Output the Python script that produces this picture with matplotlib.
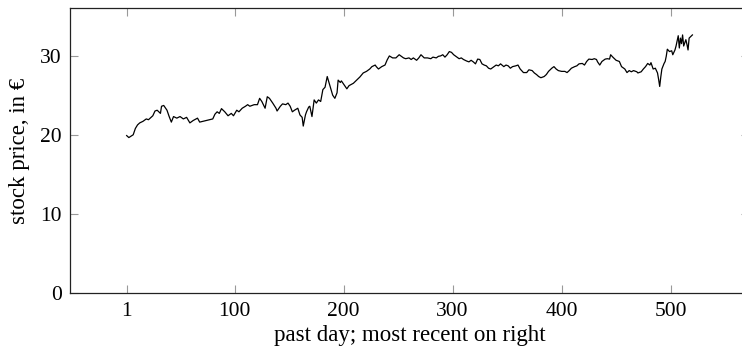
import matplotlib
matplotlib.use("Agg")
import matplotlib.pyplot as plt

days = [
    1, 3, 7, 9, 11, 13, 16, 19, 21, 25,
    27, 29, 32, 33, 35, 38, 40, 42, 44, 47,
    50, 53, 56, 59, 62, 66, 68, 71, 74, 77,
    80, 82, 84, 86, 88, 91, 94, 97, 99, 102,
    104, 107, 110, 112, 114, 118, 121, 123, 125, 128,
    130, 132, 135, 138, 139, 142, 144, 147, 149, 151,
    153, 155, 158, 160, 162, 163, 165, 166, 168, 169,
    171, 173, 175, 177, 179, 181, 183, 184, 185, 187,
    190, 192, 194, 195, 197, 198, 200, 203, 205, 207,
    209, 212, 215, 218, 221, 224, 226, 229, 230, 232,
    235, 238, 240, 242, 245, 248, 251, 253, 255, 257,
    260, 262, 264, 267, 269, 271, 274, 277, 280, 282,
    285, 287, 289, 291, 293, 295, 297, 299, 301, 304,
    306, 308, 310, 313, 315, 317, 319, 321, 323, 325,
    327, 329, 331, 333, 335, 338, 340, 342, 344, 347,
    349, 351, 353, 355, 358, 360, 362, 365, 368, 370,
    373, 375, 377, 379, 381, 384, 386, 388, 391, 393,
    395, 397, 400, 403, 405, 407, 409, 412, 414, 416,
    419, 421, 423, 425, 428, 430, 432, 433, 435, 437,
    440, 442, 444, 445, 447, 450, 453, 455, 458, 460,
    462, 464, 466, 469, 470, 473, 475, 477, 479, 481,
    482, 484, 486, 488, 489, 490, 491, 492, 494, 495,
    496, 497, 499, 501, 502, 504, 505, 507, 508, 509,
    510, 511, 512, 514, 515, 516, 517, 520,
]

prices = [
    19.9, 19.65, 20.0, 20.8, 21.25, 21.5, 21.7, 22.0, 21.9, 22.4,
    23.0, 23.1, 22.7, 23.6, 23.7, 23.1, 22.3, 21.6, 22.3, 22.1,
    22.3, 22.0, 22.2, 21.5, 21.8, 22.1, 21.6, 21.7, 21.8, 21.9,
    22.0, 22.6, 22.9, 22.7, 23.3, 22.9, 22.4, 22.7, 22.4, 23.1,
    22.9, 23.35, 23.6, 23.8, 23.6, 23.8, 23.8, 24.6, 24.2, 23.35,
    24.8, 24.6, 24.0, 23.35, 23.0, 23.6, 23.9, 23.8, 24.0, 23.6,
    22.9, 23.1, 23.35, 22.5, 22.2, 21.1, 22.5, 22.9, 23.5, 23.6,
    22.3, 24.4, 24.0, 24.4, 24.2, 25.7, 26.0, 26.7, 27.35, 26.4,
    25.0, 24.6, 25.3, 26.9, 26.6, 26.8, 26.4, 25.8, 26.2, 26.35,
    26.5, 26.9, 27.3, 27.8, 28.0, 28.3, 28.6, 28.8, 28.6, 28.3,
    28.6, 28.8, 29.45, 29.95, 29.7, 29.7, 30.1, 29.9, 29.7, 29.6,
    29.7, 29.5, 29.7, 29.4, 29.7, 30.1, 29.7, 29.7, 29.6, 29.8,
    29.7, 29.9, 29.95, 30.1, 29.8, 30.1, 30.5, 30.4, 30.1, 29.8,
    29.6, 29.7, 29.5, 29.3, 29.2, 29.4, 29.2, 28.95, 29.55, 29.5,
    28.95, 28.8, 28.7, 28.4, 28.3, 28.6, 28.8, 28.7, 28.95, 28.6,
    28.8, 28.7, 28.4, 28.6, 28.7, 28.8, 28.3, 27.85, 27.85, 28.2,
    28.1, 27.8, 27.6, 27.35, 27.2, 27.35, 27.6, 28.0, 28.4, 28.6,
    28.3, 28.1, 28.0, 28.0, 27.85, 28.1, 28.4, 28.6, 28.7, 28.95,
    29.0, 28.8, 29.25, 29.55, 29.5, 29.6, 29.5, 29.2, 28.8, 29.25,
    29.55, 29.6, 29.55, 30.1, 29.8, 29.4, 29.25, 28.6, 28.3, 27.85,
    28.1, 27.95, 28.1, 27.95, 27.8, 27.95, 28.3, 28.6, 29.0, 28.8,
    29.1, 28.3, 28.4, 27.8, 27.0, 26.1, 27.3, 28.3, 29.0, 29.25,
    29.9, 30.8, 30.5, 30.6, 30.1, 30.7, 31.2, 32.5, 30.95, 32.2,
    31.5, 32.6, 31.2, 32.0, 31.4, 30.7, 32.2, 32.6,
]

x_ticks = [1, 100, 200, 300, 400, 500]
y_ticks = [0, 10, 20, 30]
x_label = "past day; most recent on right"
y_label = "stock price, in €"

plt.rcParams['font.family'] = ['Liberation Serif', 'DejaVu Serif']

fig = plt.figure(figsize=(7.42, 3.47), dpi=100)
ax = fig.add_axes([0.0943, 0.1548, 0.9151, 0.8222])

ax.plot(days, prices, color='black', lw=0.9)

ax.set_xlim(-51, 571.9)
ax.set_ylim(0, 36.0)
ax.set_xticks(x_ticks)
ax.set_yticks(y_ticks)
ax.tick_params(direction='in', length=6, width=0.8, color='#999999',
               top=True, right=True, labelsize=15.5, pad=6)
for s in ax.spines.values():
    s.set_linewidth(0.9)
    s.set_color('#222222')

ax.set_xlabel(x_label, fontsize=16.5, labelpad=3)
ax.set_ylabel(y_label, fontsize=16.5, labelpad=7)

fig.savefig("out.png", dpi=100)
